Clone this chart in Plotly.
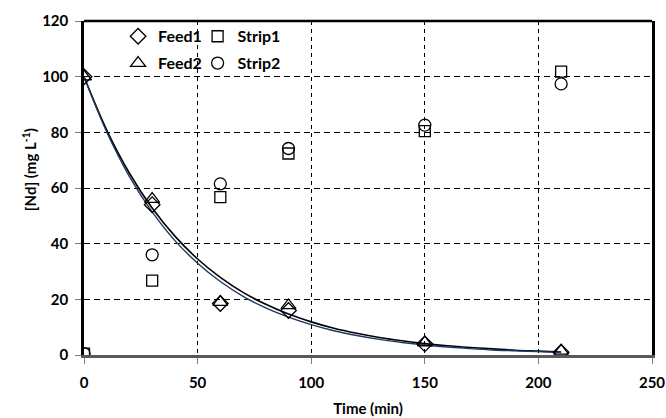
import plotly.graph_objects as go

# Measured samples
time_pts = [0, 30, 60, 90, 150, 210]
feed1 = [100, 54, 18.5, 16, 4, 1]
feed2 = [100, 56, 19, 17.8, 4.5, 1.5]
strip1 = [0.5, 26.7, 56.7, 72.4, 80.4, 101.8]
strip2 = [0.5, 36, 61.5, 74.2, 82.6, 97.4]

# Fitted decay curves for the two feed runs
fit_time = [0, 10, 20, 30, 40, 50, 60, 70, 80, 90, 100, 110, 120, 130, 140,
            150, 160, 170, 180, 190, 200, 210]
fit1 = [100, 80.8, 65.3, 52.8, 42.7, 34.5, 27.9, 22.5, 18.2, 14.7, 11.9, 9.6,
        7.8, 6.3, 5.1, 4.1, 3.3, 2.7, 2.2, 1.7, 1.4, 1.1]
fit2 = [100, 80.1, 64.1, 51.4, 41.1, 33.0, 26.4, 21.1, 16.9, 13.6, 10.9, 8.7,
        7.0, 5.6, 4.5, 3.6, 2.9, 2.3, 1.8, 1.5, 1.2, 0.9]

x_ticks = [0, 50, 100, 150, 200, 250]
y_ticks = [0, 20, 40, 60, 80, 100, 120]

FONT = "Lato, 'Liberation Sans', sans-serif"
mk_line = dict(color="black", width=1.3)

fig = go.Figure()

fig.add_trace(go.Scatter(x=fit_time, y=fit1, mode="lines", line=dict(color="black", width=1.6, shape="spline"),
                         showlegend=False, hoverinfo="skip"))
fig.add_trace(go.Scatter(x=fit_time, y=fit2, mode="lines", line=dict(color="#1f3864", width=1.4, shape="spline"),
                         showlegend=False, hoverinfo="skip"))

fig.add_trace(go.Scatter(x=time_pts, y=feed1, mode="markers", name="<b>Feed1</b>", legend="legend", legendgroup="f1",
                         marker=dict(symbol="diamond-open", size=12, color="black", line=mk_line)))
fig.add_trace(go.Scatter(x=time_pts, y=feed2, mode="markers", name="<b>Feed2</b>", legend="legend", legendgroup="f2",
                         marker=dict(symbol="triangle-up-open", size=13, color="black", line=mk_line)))
fig.add_trace(go.Scatter(x=time_pts, y=strip1, mode="markers", name="<b>Strip1</b>", legend="legend2", legendgroup="s1",
                         marker=dict(symbol="square-open", size=11, color="black", line=mk_line)))
fig.add_trace(go.Scatter(x=time_pts, y=strip2, mode="markers", name="<b>Strip2</b>", legend="legend2", legendgroup="s2",
                         marker=dict(symbol="circle-open", size=12, color="black", line=mk_line)))

legend_style = dict(
    font=dict(family=FONT, size=16, color="black"),
    bgcolor="rgba(0,0,0,0)", borderwidth=0, tracegroupgap=3,
    itemwidth=30, xanchor="left", yanchor="top", orientation="v",
)

tick_font = dict(family=FONT, size=15, color="black")

fig.update_layout(
    width=666, height=418,
    margin=dict(l=84, r=14, t=21, b=63),
    paper_bgcolor="white", plot_bgcolor="white",
    font=dict(family=FONT, size=15, color="black"),
    legend=dict(x=0.06, y=1.005, **legend_style),
    legend2=dict(x=0.20, y=1.005, **legend_style),
    xaxis=dict(
        range=[0, 250], tickvals=x_ticks, ticktext=[f"<b>{v}</b>" for v in x_ticks],
        showgrid=True, gridcolor="black", griddash="4px,4px", gridwidth=1,
        showline=True, linecolor="#595959", linewidth=2.5, mirror=False,
        ticks="outside", ticklen=6, tickcolor="#7f7f7f", ticklabelstandoff=6,
        tickfont=tick_font, zeroline=False, automargin=False,
        title=dict(text="<b>Time (min)</b>", font=dict(family=FONT, size=15), standoff=14),
    ),
    yaxis=dict(
        range=[0, 120], tickvals=y_ticks, ticktext=[f"<b>{v}</b>" for v in y_ticks],
        showgrid=True, gridcolor="black", griddash="6px,4px", gridwidth=1,
        showline=True, linecolor="black", linewidth=2.5, mirror=True,
        ticks="outside", ticklen=6, tickcolor="#7f7f7f", ticklabelstandoff=4,
        tickfont=tick_font, zeroline=False, automargin=False,
    ),
    annotations=[dict(
        text="<b>[Nd] (mg L<sup>-1</sup>)</b>", textangle=-90, xref="paper", yref="paper",
        x=0, y=0.555, xshift=-66, showarrow=False,
        font=dict(family=FONT, size=15, color="black"),
    )],
    shapes=[dict(type="line", xref="paper", yref="paper", x0=0, x1=1, y0=1, y1=1,
                 line=dict(color="black", width=2.5))],
)

fig.write_html("out.html")
